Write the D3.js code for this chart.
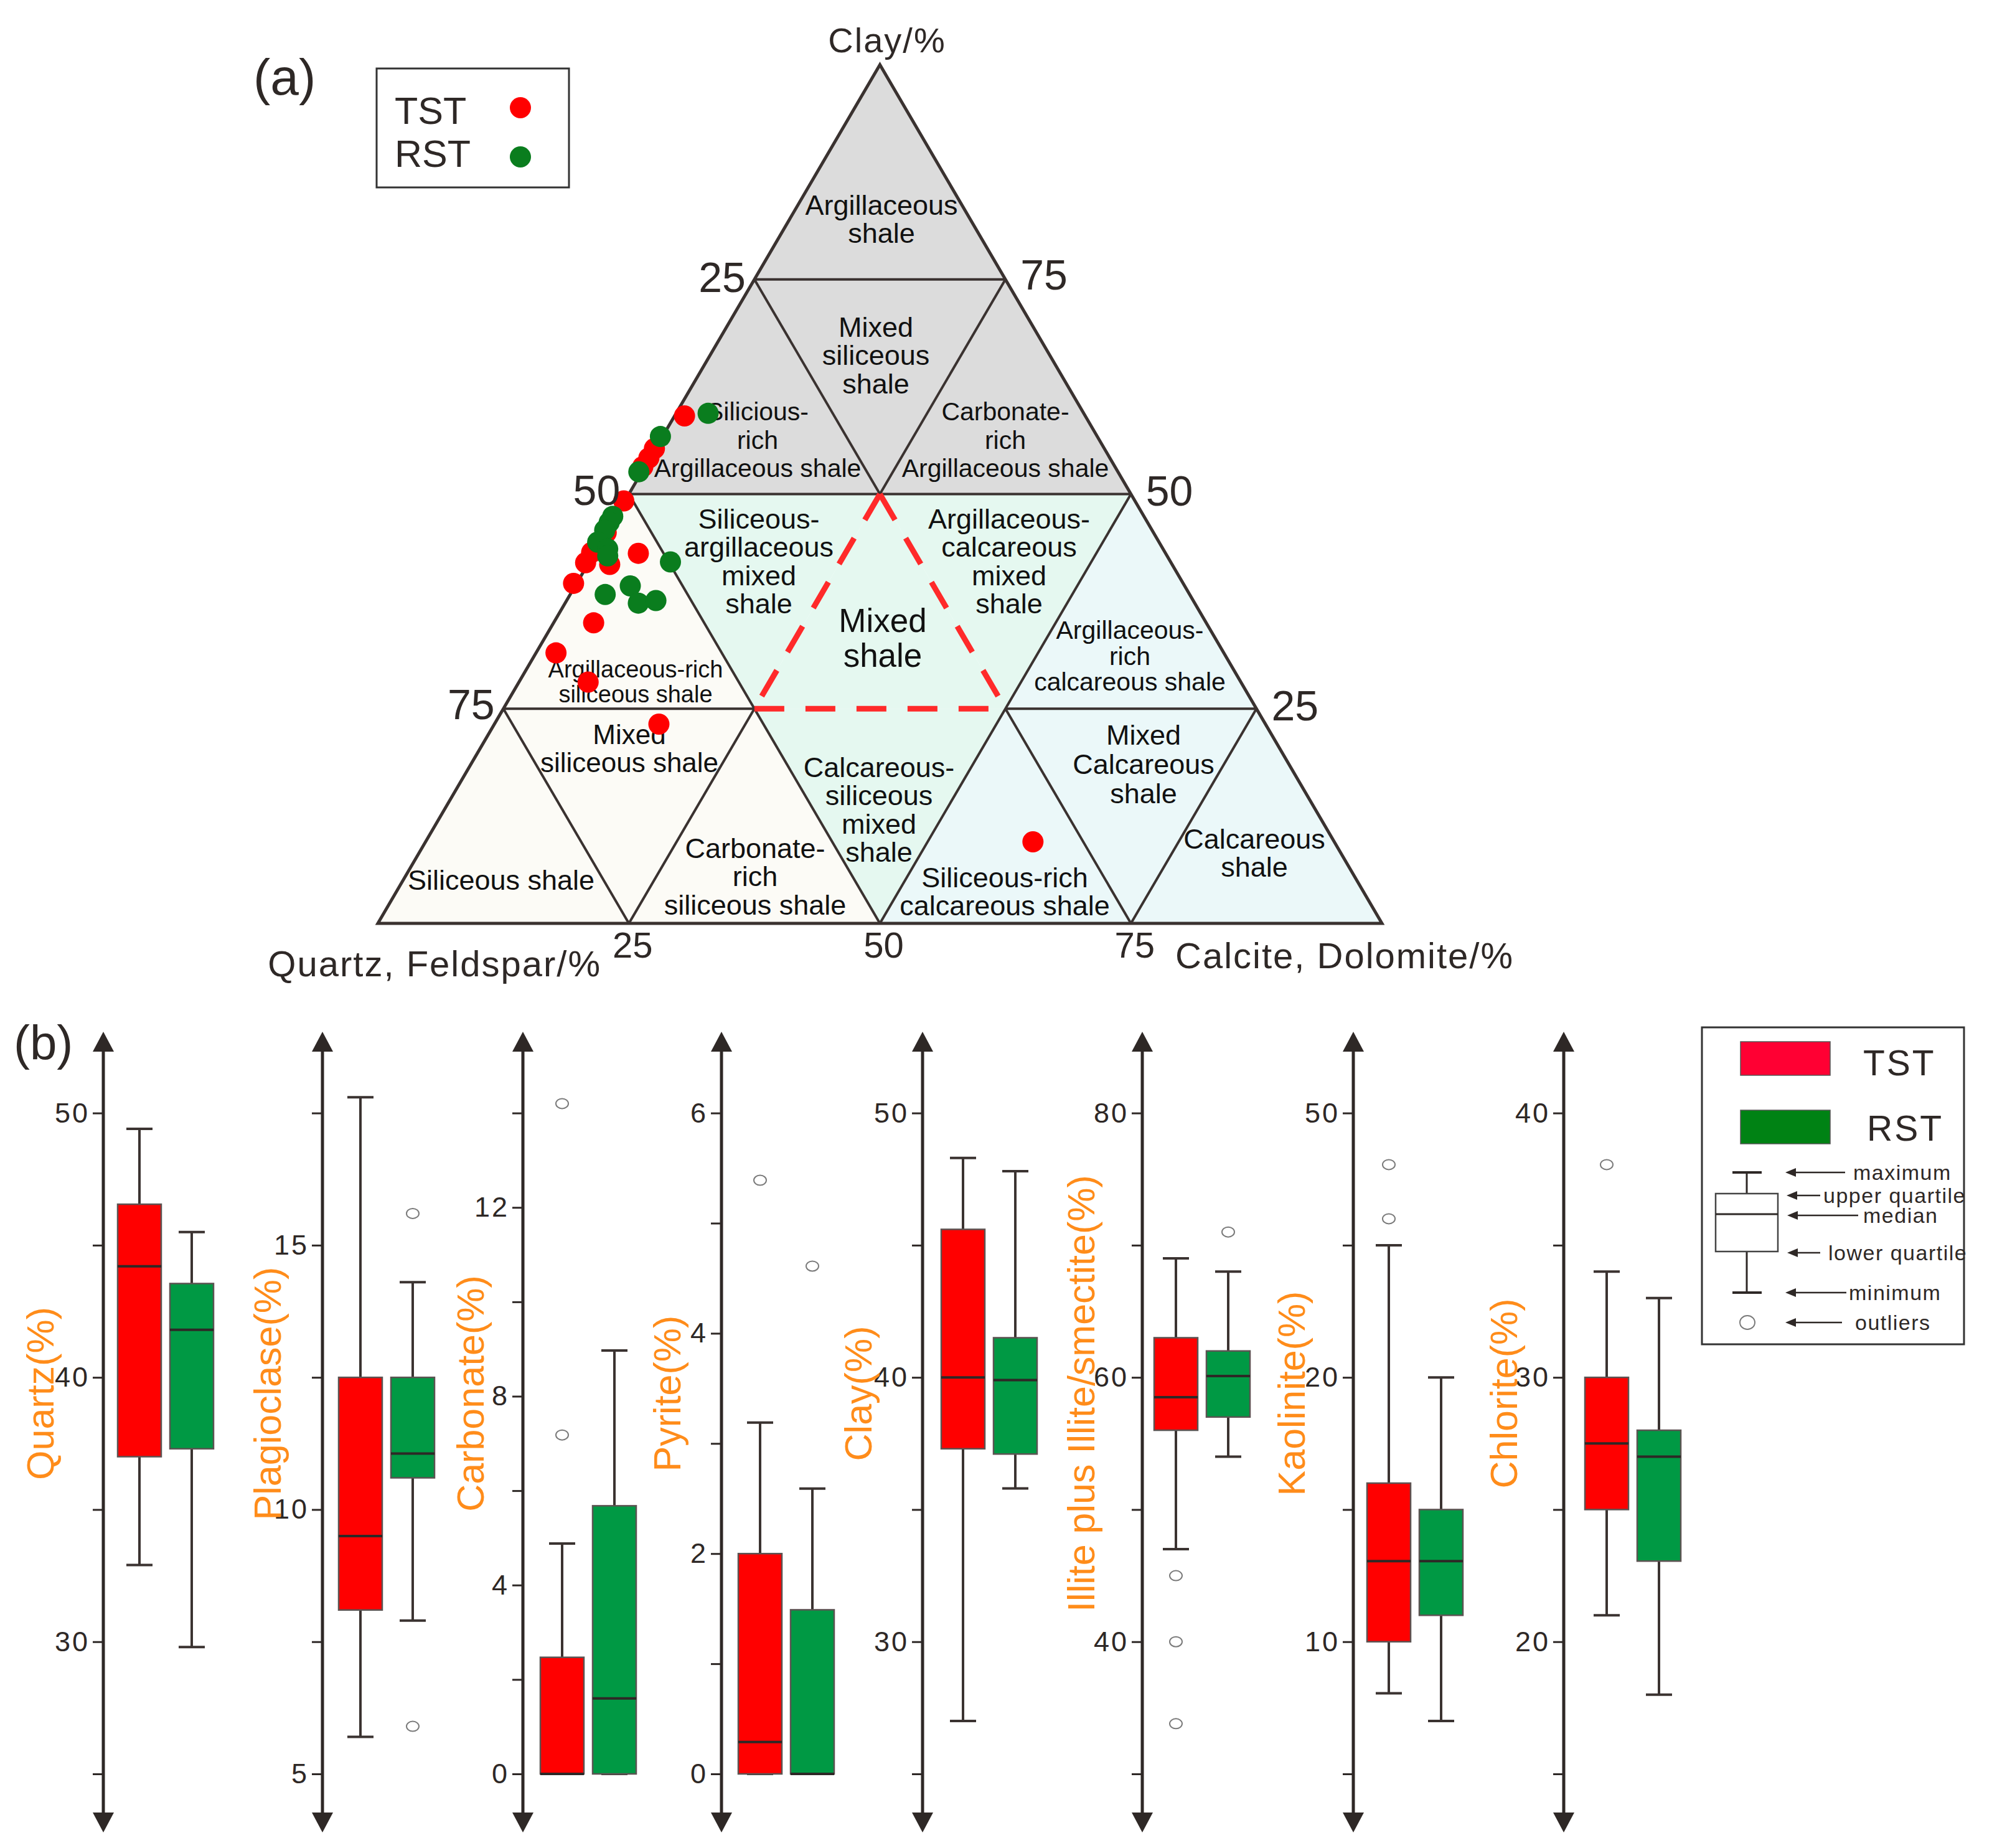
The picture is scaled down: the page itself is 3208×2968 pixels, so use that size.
<!DOCTYPE html>
<html>
<head>
<meta charset="utf-8">
<title>Shale lithofacies ternary diagram and mineral box plots</title>
<script src="https://cdn.jsdelivr.net/npm/d3@7"></script>
<style>
  body { margin: 0; background: #ffffff; }
  svg { display: block; font-family: 'Liberation Sans', Arial, sans-serif; }
</style>
</head>
<body>
<div class="viz"></div>
<script>
/* globals d3 */
// (a) ternary samples: clay and calcite+dolomite content (%), quartz+feldspar is the remainder
const tstClay = [59.1, 55.3, 54.2, 53.2, 49.2, 45.5, 43.2, 42.0, 41.8, 43.1, 39.6, 35.0, 31.5, 28.1, 23.2, 9.5];
const tstCarbonate = [1.3, 0.2, 0.2, 0.1, 0.2, 0.3, 0, 0, 2.5, 4.7, 0, 4.3, 2.3, 7.2, 16.7, 60.8];
const rstClay = [59.4, 56.7, 52.6, 47.4, 46.7, 45.8, 44.4, 43.6, 42.8, 42.1, 39.3, 38.3, 37.3, 37.6];
const rstCarbonate = [3.5, 0.1, 0, 0, 0, 0, 0, 1.4, 1.8, 8.4, 5.8, 3.8, 7.6, 9.2];

// (b) box plots, one panel per mineral
const minerals = ['Quartz', 'Plagioclase', 'Carbonate', 'Pyrite', 'Clay', 'Illite plus Illite/smectite', 'Kaolinite', 'Chlorite'];
// five number summaries: [minimum, lower quartile, median, upper quartile, maximum]
const tstStats = [
  [32.9, 37.0, 44.2, 46.55, 49.4],
  [5.7, 8.1, 9.5, 12.5, 17.8],
  [0, 0, 0, 2.47, 4.88],
  [0, 0, 0.29, 2.0, 3.19],
  [27.0, 37.3, 40.0, 45.6, 48.3],
  [47.0, 56.0, 58.5, 63.0, 69.0],
  [8.05, 10.0, 13.05, 16.0, 25.0],
  [21.0, 25.0, 27.5, 30.0, 34.0],
];
const rstStats = [
  [29.8, 37.3, 41.8, 43.55, 45.5],
  [7.9, 10.6, 11.06, 12.5, 14.3],
  [0, 0, 1.6, 5.68, 8.97],
  [0, 0, 0, 1.49, 2.59],
  [35.8, 37.1, 39.9, 41.5, 47.8],
  [54.0, 57.0, 60.1, 62.0, 68.0],
  [7.0, 11.0, 13.05, 15.0, 20.0],
  [18.0, 23.05, 27.0, 28.0, 33.0],
];
const tstOutliers = [[], [], [14.2, 7.18], [5.39], [], [45.0, 40.0, 33.8], [28.05, 26.0], [38.05]];
const rstOutliers = [[], [15.6, 5.9], [], [4.61], [], [71.0], [], []];

// tick values of every axis and the text printed beside them ('' = bare tick)
const tickValues = [
  [25, 30, 35, 40, 45, 50],
  [5, 7.5, 10, 12.5, 15, 17.5],
  [0, 2, 4, 6, 8, 10, 12, 14],
  [0, 1, 2, 3, 4, 5, 6],
  [25, 30, 35, 40, 45, 50],
  [30, 40, 50, 60, 70, 80],
  [5, 10, 15, 20, 25, 30],
  [15, 20, 25, 30, 35, 40],
];
const tickLabels = [
  ['', '30', '', '40', '', '50'],
  ['5', '', '10', '', '15', ''],
  ['0', '', '4', '', '8', '', '12', ''],
  ['0', '', '2', '', '4', '', '6'],
  ['', '30', '', '40', '', '50'],
  ['', '40', '', '60', '', '80'],
  ['', '10', '', '20', '', '50'],
  ['', '20', '', '30', '', '40'],
];

const ink = '#2e2826';
const orange = '#ff8c1a';

const svg = d3.select('.viz')
  .append('svg')
  .attr('width', 3208)
  .attr('height', 2968)
  .attr('viewBox', '0 0 3208 2968');

// TERNARY DIAGRAM
// x follows calcite + clay / 2, y follows clay
const xTern = d3.scaleLinear().domain([0, 100]).range([607, 2220]);
const yTern = d3.scaleLinear().domain([0, 100]).range([1483, 104]);
const project = (clay, carb) => [xTern(carb + clay / 2), yTern(clay)];

const ternary = svg.append('g').attr('class', 'ternary');

// 16 sub-triangles, described by (clay, carbonate) corners
const cells = [];
for (let r = 0; r < 4; r += 1) {
  for (let k = 0; k < 4 - r; k += 1) {
    cells.push({ r, k, kind: 'up', pts: [[r * 25, k * 25], [r * 25, (k + 1) * 25], [(r + 1) * 25, k * 25]] });
    if (k < 3 - r) {
      cells.push({ r, k, kind: 'down', pts: [[(r + 1) * 25, k * 25], [(r + 1) * 25, (k + 1) * 25], [r * 25, (k + 1) * 25]] });
    }
  }
}

const zoneColor = ({ r, k, kind }) => {
  const gray = '#dcdcdc';
  const cream = '#fcfbf6';
  const mint = '#e5f8f0';
  const blue = '#ebf8f9';
  if (r >= 2) return gray;
  if (r === 1) {
    if (kind === 'down') return mint;
    return [cream, mint, blue][k];
  }
  if (kind === 'down') return [cream, mint, blue][k];
  return [cream, cream, blue, blue][k];
};

const line = d3.line();

ternary
  .selectAll('path.cell')
  .data(cells)
  .enter()
  .append('path')
  .attr('class', 'cell')
  .attr('d', d => `${line(d.pts.map(p => project(p[0], p[1])))}Z`)
  .attr('fill', zoneColor)
  .attr('stroke', 'none');

// grid lines, the sides of the central triangle are left out for the dashed outline
const segments = [
  [[75, 0], [75, 25]],
  [[50, 0], [50, 50]],
  [[25, 0], [25, 25]], [[25, 50], [25, 75]],
  [[0, 25], [25, 25]], [[50, 25], [75, 25]],
  [[0, 50], [50, 50]],
  [[0, 75], [25, 75]],
  [[0, 75], [25, 50]], [[50, 25], [75, 0]],
  [[0, 50], [50, 0]],
  [[0, 25], [25, 0]],
];

ternary
  .selectAll('path.grid')
  .data(segments)
  .enter()
  .append('path')
  .attr('class', 'grid')
  .attr('d', d => line(d.map(p => project(p[0], p[1]))))
  .attr('stroke', '#3a3230')
  .attr('stroke-width', 4)
  .attr('fill', 'none');

ternary
  .append('path')
  .attr('d', `${line([[0, 0], [100, 0], [0, 100]].map(p => project(p[0], p[1])))}Z`)
  .attr('fill', 'none')
  .attr('stroke', '#3a3230')
  .attr('stroke-width', 5)
  .attr('stroke-linejoin', 'miter');

// red dashed outline of the mixed shale field
const mixedSides = [
  [[50, 25], [25, 25]],
  [[50, 25], [25, 50]],
  [[25, 25], [25, 50]],
];
ternary
  .selectAll('path.mixed')
  .data(mixedSides)
  .enter()
  .append('path')
  .attr('class', 'mixed')
  .attr('d', d => line(d.map(p => project(p[0], p[1]))))
  .attr('stroke', '#ff2a2a')
  .attr('stroke-width', 9)
  .attr('stroke-dasharray', '48 34')
  .attr('fill', 'none');

// lithofacies names
const zoneLabels = [
  { lines: ['Argillaceous', 'shale'], x: 1416, y: 329, size: 45 },
  { lines: ['Mixed', 'siliceous', 'shale'], x: 1407, y: 525, size: 45 },
  { lines: ['Silicious-', 'rich', 'Argillaceous shale'], x: 1217, y: 661, size: 41 },
  { lines: ['Carbonate-', 'rich', 'Argillaceous shale'], x: 1615, y: 661, size: 41 },
  { lines: ['Siliceous-', 'argillaceous', 'mixed', 'shale'], x: 1219, y: 833, size: 45 },
  { lines: ['Argillaceous-', 'calcareous', 'mixed', 'shale'], x: 1621, y: 833, size: 45 },
  { lines: ['Mixed', 'shale'], x: 1418, y: 996, size: 53, gap: 56 },
  { lines: ['Argillaceous-', 'rich', 'calcareous shale'], x: 1815, y: 1012, size: 41, gap: 41.5 },
  { lines: ['Argillaceous-rich', 'siliceous shale'], x: 1021, y: 1075, size: 38, gap: 40 },
  { lines: ['Mixed', 'siliceous shale'], x: 1011, y: 1180, size: 44, gap: 45 },
  { lines: ['Siliceous shale'], x: 805, y: 1413, size: 45 },
  { lines: ['Carbonate-', 'rich', 'siliceous shale'], x: 1213, y: 1362, size: 45 },
  { lines: ['Calcareous-', 'siliceous', 'mixed', 'shale'], x: 1412, y: 1232, size: 45 },
  { lines: ['Siliceous-rich', 'calcareous shale'], x: 1614, y: 1409, size: 45 },
  { lines: ['Mixed', 'Calcareous', 'shale'], x: 1837, y: 1180, size: 45, gap: 47 },
  { lines: ['Calcareous', 'shale'], x: 2015, y: 1347, size: 45 },
];

zoneLabels.forEach(({ lines, x, y, size, gap = 45.5 }) => {
  const text = ternary
    .append('text')
    .attr('text-anchor', 'middle')
    .attr('font-size', size)
    .attr('fill', '#111111');
  lines.forEach((l, i) => {
    text.append('tspan')
      .attr('x', x)
      .attr('y', y + i * gap)
      .attr('dy', '0.35em')
      .text(l);
  });
});

// sample points
const tstPoints = tstClay.map((c, i) => project(c, tstCarbonate[i]));
const rstPoints = rstClay.map((c, i) => project(c, rstCarbonate[i]));

ternary
  .selectAll('circle.tst')
  .data(tstPoints)
  .enter()
  .append('circle')
  .attr('class', 'tst')
  .attr('cx', d => d[0] - 5)
  .attr('cy', d => d[1])
  .attr('r', 17)
  .attr('fill', '#ff0000');

ternary
  .selectAll('circle.rst')
  .data(rstPoints)
  .enter()
  .append('circle')
  .attr('class', 'rst')
  .attr('cx', d => d[0] - 5)
  .attr('cy', d => d[1])
  .attr('r', 17)
  .attr('fill', '#0a7d1e');

// corner titles and scale numbers
const ternText = (x, y, size, anchor, txt, spacing = 0) => ternary
  .append('text')
  .attr('x', x)
  .attr('y', y)
  .attr('font-size', size)
  .attr('text-anchor', anchor)
  .attr('fill', ink)
  .style('letter-spacing', `${spacing}px`)
  .text(txt);

ternText(1425, 84, 56, 'middle', 'Clay/%', 2);
ternText(966, 1568, 58, 'end', 'Quartz, Feldspar/%', 2);
ternText(1888, 1555, 58, 'start', 'Calcite, Dolomite/%', 2);

[['25', 469], ['50', 811], ['75', 1155]].forEach(([t, y]) => {
  const x = xTern((100 - (+t)) / 2) - 14;
  ternText(x, y, 68, 'end', t);
});
[['75', 465], ['50', 812], ['25', 1157]].forEach(([t, y]) => {
  const x = xTern(100 - (+t) / 2) + 24;
  ternText(x, y, 68, 'start', t);
});
['25', '50', '75'].forEach((t) => {
  ternText(xTern(+t) + 6, 1538, 58, 'middle', t);
});

// (a) label and legend
svg.append('text')
  .attr('x', 407)
  .attr('y', 152)
  .attr('font-size', 82)
  .attr('fill', ink)
  .text('(a)');

const legendA = svg.append('g').attr('class', 'legend-a');
legendA.append('rect')
  .attr('x', 605)
  .attr('y', 110)
  .attr('width', 309)
  .attr('height', 191)
  .attr('fill', '#ffffff')
  .attr('stroke', '#333333')
  .attr('stroke-width', 3);

[['TST', '#ff0000', 199, 173], ['RST', '#0a7d1e', 268, 252]].forEach(([t, c, ty, cy]) => {
  legendA.append('text')
    .attr('x', 634)
    .attr('y', ty)
    .attr('font-size', 61)
    .attr('fill', ink)
    .text(t);
  legendA.append('circle')
    .attr('cx', 836)
    .attr('cy', cy)
    .attr('r', 17)
    .attr('fill', c);
});

// BOX PLOTS
const axisX = [166, 518, 840, 1159, 1482, 1835, 2174, 2512];
const boxStart = [23, 26, 28, 27, 30, 19, 22, 34];
const labelDx = [-101, -88, -84, -87, -103, -98, -99, -96];
const boxTop = 1787.6;
const boxBottom = 2849;
const arrowTop = 1657;
const arrowBottom = 2943;
const boxColor = { TST: '#ff0000', RST: '#009944' };

svg.append('text')
  .attr('x', 22)
  .attr('y', 1702)
  .attr('font-size', 78)
  .attr('fill', ink)
  .text('(b)');

minerals.forEach((name, i) => {
  const ticks = tickValues[i];
  const panel = svg.append('g').attr('class', 'panel');

  const y = d3.scaleLinear()
    .domain([ticks[0], ticks[ticks.length - 1]])
    .range([boxBottom, boxTop]);

  const x = d3.scaleBand()
    .domain(['TST', 'RST'])
    .range([axisX[i] + boxStart[i], axisX[i] + boxStart[i] + 154])
    .paddingInner(1 / 6);

  // axis with ticks, the domain path is replaced by a double arrow
  const axis = panel.append('g')
    .attr('class', 'axis')
    .attr('transform', `translate(${axisX[i]} 0)`)
    .call(d3.axisLeft(y)
      .tickValues(ticks)
      .tickSize(17)
      .tickPadding(5)
      .tickFormat((d, j) => tickLabels[i][j]));

  axis.select('.domain').remove();
  axis.attr('font-family', null).attr('font-size', null);
  axis.selectAll('line').attr('stroke', ink).attr('stroke-width', 3);
  axis.selectAll('text')
    .attr('font-size', 45)
    .attr('fill', ink)
    .style('letter-spacing', '3px');

  panel.append('line')
    .attr('x1', axisX[i])
    .attr('x2', axisX[i])
    .attr('y1', arrowTop + 20)
    .attr('y2', arrowBottom - 20)
    .attr('stroke', ink)
    .attr('stroke-width', 5);

  panel.append('path')
    .attr('d', `M ${axisX[i]} ${arrowTop} l -17 32 h 34 Z M ${axisX[i]} ${arrowBottom} l -17 -32 h 34 Z`)
    .attr('fill', ink);

  // orange axis title
  panel.append('text')
    .attr('transform', `translate(${axisX[i] + labelDx[i]} 2238) rotate(-90)`)
    .attr('text-anchor', 'middle')
    .attr('dy', '0.35em')
    .attr('font-size', 61)
    .attr('fill', orange)
    .text(`${name}(%)`);

  const groups = [
    { key: 'TST', stats: tstStats[i], outliers: tstOutliers[i] },
    { key: 'RST', stats: rstStats[i], outliers: rstOutliers[i] },
  ];

  groups.forEach(({ key, stats, outliers }) => {
    const [min, q1, median, q3, max] = stats;
    const left = x(key);
    const w = x.bandwidth();
    const cx = left + w / 2;

    // whiskers and caps
    panel.append('line')
      .attr('x1', cx).attr('x2', cx)
      .attr('y1', y(max)).attr('y2', y(min))
      .attr('stroke', '#3b3331')
      .attr('stroke-width', 4);
    [min, max].forEach((v) => {
      panel.append('line')
        .attr('x1', cx - 21).attr('x2', cx + 21)
        .attr('y1', y(v)).attr('y2', y(v))
        .attr('stroke', '#3b3331')
        .attr('stroke-width', 4);
    });

    panel.append('rect')
      .attr('x', left)
      .attr('y', y(q3))
      .attr('width', w)
      .attr('height', Math.max(y(q1) - y(q3), 0))
      .attr('fill', boxColor[key])
      .attr('stroke', '#5c5352')
      .attr('stroke-width', 2.5);

    panel.append('line')
      .attr('x1', left).attr('x2', left + w)
      .attr('y1', y(median)).attr('y2', y(median))
      .attr('stroke', ink)
      .attr('stroke-width', 4);

    panel.selectAll(null)
      .data(outliers)
      .enter()
      .append('ellipse')
      .attr('cx', cx)
      .attr('cy', d => y(d))
      .attr('rx', 10)
      .attr('ry', 8)
      .attr('fill', 'none')
      .attr('stroke', '#7a7a7a')
      .attr('stroke-width', 2);
  });
});

// legend of the box plots
const legendB = svg.append('g').attr('class', 'legend-b');
legendB.append('rect')
  .attr('x', 2734)
  .attr('y', 1650)
  .attr('width', 421)
  .attr('height', 509)
  .attr('fill', '#ffffff')
  .attr('stroke', '#333333')
  .attr('stroke-width', 3);

[['TST', '#ff0033', 1673, 2993, 1727], ['RST', '#008214', 1783, 2999, 1832]].forEach(([t, c, ry, tx, ty]) => {
  legendB.append('rect')
    .attr('x', 2796)
    .attr('y', ry)
    .attr('width', 144)
    .attr('height', 54)
    .attr('fill', c)
    .attr('stroke', '#555555')
    .attr('stroke-width', 1.5);
  legendB.append('text')
    .attr('x', tx)
    .attr('y', ty)
    .attr('font-size', 57)
    .attr('fill', ink)
    .style('letter-spacing', '3px')
    .text(t);
});

// explanatory box
legendB.append('line')
  .attr('x1', 2806).attr('x2', 2806).attr('y1', 1883).attr('y2', 2076)
  .attr('stroke', ink).attr('stroke-width', 3);
[1883, 2076].forEach((v) => {
  legendB.append('line')
    .attr('x1', 2783).attr('x2', 2830).attr('y1', v).attr('y2', v)
    .attr('stroke', ink).attr('stroke-width', 4);
});
legendB.append('rect')
  .attr('x', 2756).attr('y', 1917).attr('width', 100).attr('height', 93)
  .attr('fill', '#ffffff').attr('stroke', '#444444').attr('stroke-width', 2.5);
legendB.append('line')
  .attr('x1', 2756).attr('x2', 2856).attr('y1', 1950).attr('y2', 1950)
  .attr('stroke', ink).attr('stroke-width', 3);
legendB.append('ellipse')
  .attr('cx', 2807).attr('cy', 2124).attr('rx', 12).attr('ry', 11)
  .attr('fill', 'none').attr('stroke', '#7a7a7a').attr('stroke-width', 2);

const legendNotes = [
  { text: 'maximum', y: 1883, tip: 2868, end: 2964, tx: 2977 },
  { text: 'upper quartile', y: 1920, tip: 2870, end: 2924, tx: 2929 },
  { text: 'median', y: 1952, tip: 2871, end: 2985, tx: 2993 },
  { text: 'lower quartile', y: 2012, tip: 2871, end: 2924, tx: 2937 },
  { text: 'minimum', y: 2076, tip: 2868, end: 2966, tx: 2970 },
  { text: 'outliers', y: 2124, tip: 2868, end: 2959, tx: 2980 },
];
legendNotes.forEach(({ text, y, tip, end, tx }) => {
  legendB.append('line')
    .attr('x1', tip + 12).attr('x2', end).attr('y1', y).attr('y2', y)
    .attr('stroke', ink).attr('stroke-width', 2.5);
  legendB.append('path')
    .attr('d', `M ${tip} ${y} l 17 -7 v 14 Z`)
    .attr('fill', ink);
  legendB.append('text')
    .attr('x', tx)
    .attr('y', y)
    .attr('dy', '0.35em')
    .attr('font-size', 34)
    .attr('fill', ink)
    .style('letter-spacing', '1.5px')
    .text(text);
});
</script>
</body>
</html>
